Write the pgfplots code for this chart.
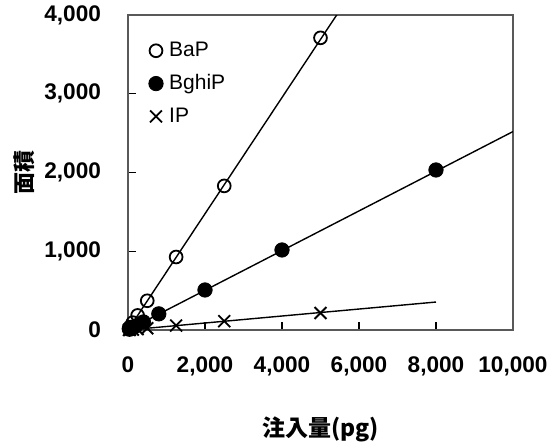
\documentclass[border=0pt]{standalone}
\usepackage{pgfplots}
\pgfplotsset{compat=1.18}
\usepackage{fontspec}
\setmainfont{Liberation Sans}
\newfontfamily\cjk{Noto Sans CJK JP}
\begin{document}
\begin{tikzpicture}
\begin{axis}[
  at={(0,0)}, anchor=south west,
  scale only axis, width=192.5pt, height=157.5pt,
  xmin=0, xmax=10000, ymin=0, ymax=4000,
  xtick={0,2000,...,10000}, ytick={0,1000,...,4000},
  scaled ticks=false,
  /pgf/number format/1000 sep={,},
  /pgf/number format/assume math mode=true,
  ticklabel style={font=\fontsize{11.3}{13}\selectfont\bfseries},
  yticklabel style={xshift=-10pt},
  xticklabel style={yshift=-10pt},
  xtick pos=bottom, ytick pos=left,
  tick align=inside, major tick length=4pt,
  axis line style={black!65, line width=0.9pt},
  tick style={black, line width=0.6pt},
  clip mode=individual,
  xlabel={\cjk\bfseries 注入量(pg)}, ylabel={\cjk\bfseries 面積},
  xlabel style={at={(axis description cs:0.5,-0.314)}, anchor=center, font=\fontsize{11.5}{13}\selectfont},
  ylabel style={at={(axis description cs:-0.27,0.5)}, anchor=center, font=\fontsize{11}{13}\selectfont},
  legend style={at={(axis description cs:0.053,0.925)}, anchor=north west, draw=none, fill=none,
    font=\fontsize{10.5}{12}\selectfont, row sep=4.5pt, column sep=1.5pt, inner sep=0pt, nodes={inner sep=1.5pt}},
  legend cell align=left,
]
\addplot[black, line width=0.7pt, forget plot] coordinates {(0,0) (6000,4428)};
\addplot[black, line width=0.7pt, forget plot] coordinates {(0,0) (10000,2520)};
\addplot[black, line width=0.7pt, forget plot] coordinates {(0,0) (8000,355)};
\addplot[only marks, mark=o, mark size=3.2pt, line width=0.9pt, black] coordinates {
  (25,18.5) (50,37) (125,93) (250,185) (500,371) (1250,927) (2500,1830) (5000,3710)};
\addlegendentry{BaP}
\addplot[only marks, mark=*, mark size=3.6pt, black] coordinates {
  (40,10) (80,20) (200,51) (400,102) (800,205) (2000,508) (4000,1016) (8000,2032)};
\addlegendentry{BghiP}
\addplot[only marks, mark=x, mark size=4.2pt, line width=0.9pt, black] coordinates {
  (25,1) (50,2) (125,5.5) (250,11) (500,22) (1250,56) (2500,112) (5000,216)};
\addlegendentry{IP}
\end{axis}
\pgfresetboundingbox
\path (-64pt,-56.5pt) rectangle (210pt,165pt);
\end{tikzpicture}
\end{document}
